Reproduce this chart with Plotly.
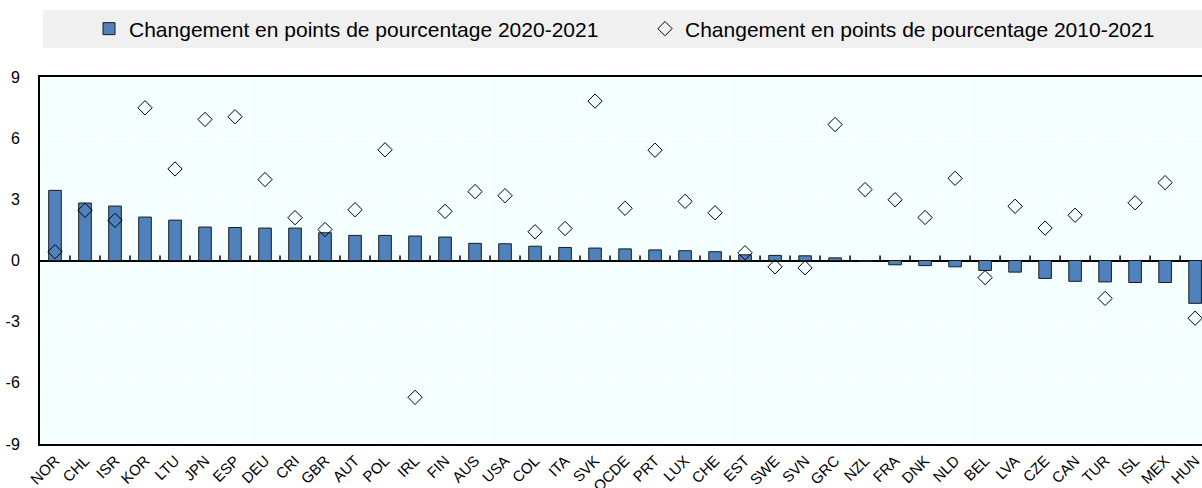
import plotly.graph_objects as go

countries = ["NOR", "CHL", "ISR", "KOR", "LTU", "JPN", "ESP", "DEU", "CRI", "GBR",
             "AUT", "POL", "IRL", "FIN", "AUS", "USA", "COL", "ITA", "SVK", "OCDE",
             "PRT", "LUX", "CHE", "EST", "SWE", "SVN", "GRC", "NZL", "FRA", "DNK",
             "NLD", "BEL", "LVA", "CZE", "CAN", "TUR", "ISL", "MEX", "HUN"]

change_2020_2021 = [3.44, 2.82, 2.67, 2.13, 1.98, 1.64, 1.62, 1.59, 1.59, 1.36,
                    1.23, 1.23, 1.20, 1.15, 0.84, 0.82, 0.70, 0.64, 0.61, 0.57,
                    0.52, 0.48, 0.43, 0.28, 0.25, 0.23, 0.13, -0.03, -0.21, -0.25,
                    -0.31, -0.49, -0.57, -0.88, -1.02, -1.05, -1.08, -1.08, -2.10]

change_2010_2021 = [0.43, 2.46, 1.97, 7.49, 4.49, 6.92, 7.05, 3.97, 2.10, 1.52,
                    2.49, 5.43, -6.71, 2.41, 3.38, 3.18, 1.41, 1.57, 7.82, 2.56,
                    5.41, 2.90, 2.34, 0.38, -0.31, -0.36, 6.67, 3.48, 2.98, 2.11,
                    4.03, -0.84, 2.66, 1.59, 2.22, -1.86, 2.83, 3.82, -2.83]

y_ticks = [-9, -6, -3, 0, 3, 6, 9]

label_bar = "Changement en points de pourcentage 2020-2021"
label_dot = "Changement en points de pourcentage 2010-2021"

FONT = "Liberation Sans, Arial, sans-serif"

fig = go.Figure()
fig.add_trace(go.Bar(
    x=countries, y=change_2020_2021, name=label_bar,
    marker=dict(color="#4F81BD", line=dict(color="#1a1a1a", width=1)),
    legend="legend",
))
fig.add_trace(go.Scatter(
    x=countries, y=change_2010_2021, name=label_dot, mode="markers",
    marker=dict(symbol="diamond-open", size=11, color="#000000",
                line=dict(color="#000000", width=1)),
    legend="legend2",
))

W, H = 1202, 488
L, R, T, B = 40, 0, 77, 44
pw, ph = W - L - R, H - T - B

def px_x(px):
    return (px - L) / pw

def px_y(py):
    return 1 + (T - py) / ph

shapes = [dict(type="rect", xref="paper", yref="paper",
               x0=px_x(43), x1=1.0, y0=px_y(48), y1=px_y(10),
               fillcolor="#F0F0F0", line=dict(width=0), layer="below")]
# small category boundary ticks on the zero line
for i in range(len(countries) - 1):
    shapes.append(dict(type="line", xref="x", yref="y",
                       x0=i + 0.5, x1=i + 0.5, y0=0, y1=0.25,
                       line=dict(color="#000000", width=1.5)))

fig.update_layout(
    width=W, height=H,
    margin=dict(l=L, r=R, t=T, b=B, autoexpand=False),
    paper_bgcolor="#FFFFFF",
    plot_bgcolor="#F4FFFF",
    font=dict(family=FONT, size=16, color="#000000"),
    bargap=0.58,
    showlegend=True,
    legend=dict(orientation="h", x=px_x(89), xanchor="left",
                y=px_y(29), yanchor="middle", bgcolor="rgba(0,0,0,0)",
                font=dict(family=FONT, size=21, color="#000000")),
    legend2=dict(orientation="h", x=px_x(645), xanchor="left",
                 y=px_y(29), yanchor="middle", bgcolor="rgba(0,0,0,0)",
                 font=dict(family=FONT, size=21, color="#000000")),
    shapes=shapes,
)

fig.update_xaxes(
    type="category", categoryorder="array", categoryarray=countries,
    range=[-0.5, 38.23], tickson="boundaries", ticks="",
    showgrid=True, gridcolor="#FFFFFF", gridwidth=1,
    showline=True, linecolor="#000000", linewidth=2, mirror=True,
    tickangle=-45, tickfont=dict(family=FONT, size=15, color="#000000"),
)
fig.update_yaxes(
    range=[-9, 9], tickvals=y_ticks, ticktext=[str(v) for v in y_ticks],
    showgrid=True, gridcolor="#FFFFFF", gridwidth=1,
    zeroline=True, zerolinecolor="#000000", zerolinewidth=1.5,
    showline=True, linecolor="#000000", linewidth=2,
    ticks="", ticklabelstandoff=15,
    tickfont=dict(family=FONT, size=16, color="#000000"),
)

fig.write_html(
    "out.html",
    config={"displayModeBar": False},
    post_script="document.body.style.margin='0';document.body.style.overflow='hidden';",
)
